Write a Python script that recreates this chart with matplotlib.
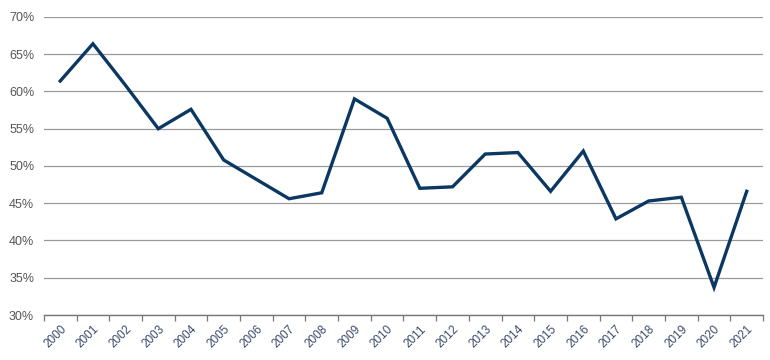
import matplotlib
matplotlib.use("Agg")
import matplotlib.pyplot as plt
from matplotlib.ticker import FixedLocator, FuncFormatter
import numpy as np

years = [str(y) for y in range(2000, 2022)]
values = [61.4, 66.4, 60.8, 55.0, 57.6, 50.8, 48.2, 45.6, 46.4, 59.0, 56.4,
          47.0, 47.2, 51.6, 51.8, 46.6, 52.0, 42.9, 45.3, 45.8, 33.7, 46.6]
yticks = [30, 35, 40, 45, 50, 55, 60, 65, 70]

plt.rcParams['font.family'] = ['Liberation Sans', 'DejaVu Sans']

fig = plt.figure(figsize=(7.7, 3.6), dpi=100)
ax = fig.add_axes([0.057, 0.125, 0.934, 0.828])

x = np.arange(len(years))
ax.plot(x, values, color='#0b3862', linewidth=2.4, solid_joinstyle='miter')

ax.set_xlim(-0.5, len(years) - 0.5)
ax.set_ylim(30, 70)
ax.set_yticks(yticks)
ax.yaxis.set_major_formatter(FuncFormatter(lambda v, p: f"{int(v)}%"))
ax.grid(axis='y', color='#9a9a9a', linewidth=0.9)
ax.set_axisbelow(True)

ax.set_xticks(x)
ax.set_xticklabels(years, rotation=45, ha='right', rotation_mode='anchor')
ax.xaxis.set_minor_locator(FixedLocator(np.arange(-0.5, len(years), 1.0)))
ax.tick_params(axis='x', which='major', length=0, pad=6, labelsize=8.5, labelcolor='#3a4a6a')
ax.tick_params(axis='x', which='minor', length=4, color='#777777', width=0.9)
ax.tick_params(axis='y', length=0, labelsize=9, labelcolor='#555555', pad=7)

for s in ['top', 'right', 'left']:
    ax.spines[s].set_visible(False)
ax.spines['bottom'].set_color('#777777')
ax.spines['bottom'].set_linewidth(1.0)

fig.savefig('out.png', dpi=100)
